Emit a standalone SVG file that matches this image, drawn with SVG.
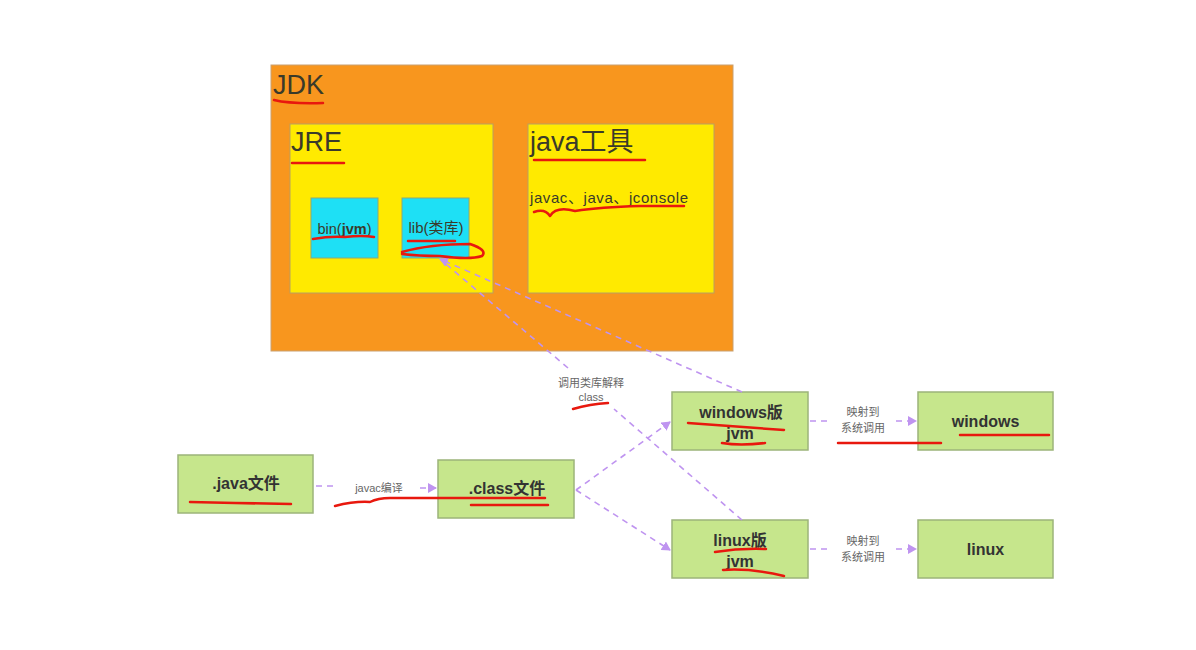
<svg xmlns="http://www.w3.org/2000/svg" width="1196" height="650" viewBox="0 0 1196 650">
<defs>
<style>
.big{font-family:"Liberation Sans","Noto Sans CJK SC",sans-serif;fill:#3a3a2a}
.nd{fill:#c6e68c;stroke:#9cb47a;stroke-width:1.5}
.nt{font-family:"Liberation Sans","Noto Sans CJK SC",sans-serif;font-size:16px;font-weight:bold;fill:#333;text-anchor:middle}
.lb{font-family:"Liberation Sans","Noto Sans CJK SC",sans-serif;font-size:11px;fill:#666;text-anchor:middle}
.cn{fill:none;stroke:#bf94f0;stroke-width:1.6;stroke-dasharray:6 5}
.rd{fill:none;stroke:#e8180e;stroke-width:2.5;stroke-linecap:round;stroke-linejoin:round}
</style>
<marker id="ah" markerWidth="10" markerHeight="10" refX="8" refY="5" orient="auto" markerUnits="userSpaceOnUse">
<path d="M0,0 L9,5 L0,10 Z" fill="#bf94f0"/>
</marker>
</defs>
<rect width="1196" height="650" fill="#fff"/>
<g id="jdk">
<rect x="271" y="65" width="462" height="286" fill="#f8961e" stroke="#c9a070" stroke-width="1"/>
<text class="big" x="273" y="94" font-size="27">JDK</text>
</g>
<g id="jre">
<rect x="290" y="124" width="203" height="169" fill="#ffea00" stroke="#b8a060" stroke-width="1"/>
<text class="big" x="291" y="151" font-size="27">JRE</text>
</g>
<g id="tools">
<rect x="528" y="124" width="186" height="169" fill="#ffea00" stroke="#b8a060" stroke-width="1"/>
<text class="big" x="530" y="151" font-size="27">java工具</text>
<text class="big" x="530" y="203" font-size="15" textLength="158" lengthAdjust="spacing">javac、java、jconsole</text>
</g>
<g id="bin">
<rect x="311" y="198" width="67" height="60" fill="#1ee0f5" stroke="#8aa878" stroke-width="1"/>
<text class="big" x="344.5" y="234" font-size="14.5" text-anchor="middle">bin(<tspan font-weight="bold">jvm</tspan>)</text>
</g>
<g id="lib">
<rect x="402" y="198" width="67" height="60" fill="#1ee0f5" stroke="#8aa878" stroke-width="1"/>
<text class="big" x="436" y="233" font-size="15" text-anchor="middle">lib(类库)</text>
</g>
<g id="java-file">
<rect class="nd" x="178" y="455" width="135" height="58"/>
<text class="nt" x="246" y="489">.java文件</text>
</g>
<g id="class-file">
<rect class="nd" x="438" y="460" width="136" height="58"/>
<text class="nt" x="507" y="494">.class文件</text>
</g>
<g id="win-jvm">
<rect class="nd" x="672" y="392" width="136" height="58"/>
<text class="nt" x="741" y="418">windows版</text>
<text class="nt" x="740" y="439">jvm</text>
</g>
<g id="windows">
<rect class="nd" x="918" y="392" width="135" height="58"/>
<text class="nt" x="985.5" y="427">windows</text>
</g>
<g id="linux-jvm">
<rect class="nd" x="672" y="520" width="136" height="58"/>
<text class="nt" x="740" y="546">linux版</text>
<text class="nt" x="740" y="567">jvm</text>
</g>
<g id="linux">
<rect class="nd" x="918" y="520" width="135" height="58"/>
<text class="nt" x="985.5" y="555">linux</text>
</g>
<g id="connectors">
<path class="cn" d="M316,486 L338,486"/>
<path class="cn" d="M420,488 L436,488" marker-end="url(#ah)"/>
<text class="lb" x="379" y="492" font-size="12.5">javac编译</text>
<path class="cn" d="M576,490 L670,422" marker-end="url(#ah)"/>
<path class="cn" d="M576,490 L670,550" marker-end="url(#ah)"/>
<path class="cn" d="M810,421 L830,421"/>
<path class="cn" d="M896,421 L916,421" marker-end="url(#ah)"/>
<text class="lb" x="863" y="416">映射到</text>
<text class="lb" x="863" y="432">系统调用</text>
<path class="cn" d="M810,549 L830,549"/>
<path class="cn" d="M896,549 L916,549" marker-end="url(#ah)"/>
<text class="lb" x="863" y="545">映射到</text>
<text class="lb" x="863" y="561">系统调用</text>
<path class="cn" d="M742,392 L440,259" marker-end="url(#ah)"/>
<path class="cn" d="M742,520 L614,409"/>
<path class="cn" d="M568,368 L440,259"/>
<text class="lb" x="591" y="387" font-size="13">调用类库解释</text>
<text class="lb" x="591" y="401" font-size="12">class</text>
</g>
<g id="annotations">
<path class="rd" d="M274,100 Q290,104 323,103"/>
<path class="rd" d="M292,163 L344,163"/>
<path class="rd" d="M534,160 L645,160"/>
<path class="rd" d="M534,212 Q545,208 550,216 Q556,206 575,211 Q600,207 640,206 L684,206"/>
<path class="rd" d="M313,239 Q330,236 345,237 Q362,235 374,237" stroke="#b02828"/>
<path class="rd" d="M408,241 L455,241 M402,252 Q430,244 470,244 Q488,250 482,256 Q470,260 440,256 Q418,256 402,254"/>
<path class="rd" d="M190,502 L235,503 L291,504"/>
<path class="rd" d="M335,506 Q355,501 370,502 Q378,498 390,498 L545,498"/>
<path class="rd" d="M471,505 L548,505"/>
<path class="rd" d="M573,409 Q590,404 608,403"/>
<path class="rd" d="M688,423 L784,430"/>
<path class="rd" d="M722,443 Q740,446 765,443"/>
<path class="rd" d="M838,443 L941,443"/>
<path class="rd" d="M960,435 L1049,435"/>
<path class="rd" d="M715,552 Q740,548 766,549"/>
<path class="rd" d="M723,570 Q750,568 784,576"/>
</g>
</svg>
